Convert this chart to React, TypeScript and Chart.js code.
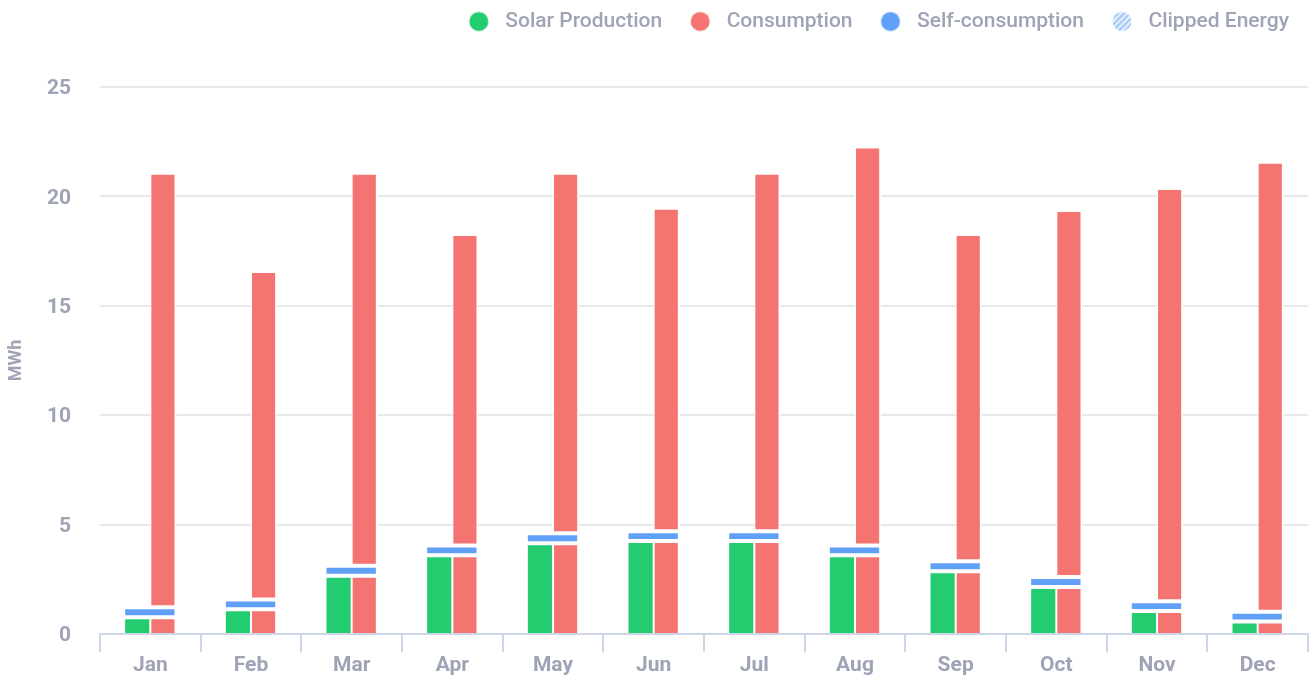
import React, { useEffect, useRef } from 'react';
import { Chart, registerables } from 'chart.js';

Chart.register(...registerables);

// ---------- data ----------
const months = ['Jan', 'Feb', 'Mar', 'Apr', 'May', 'Jun', 'Jul', 'Aug', 'Sep', 'Oct', 'Nov', 'Dec'];
const solarProduction = [0.72, 1.08, 2.62, 3.55, 4.1, 4.2, 4.2, 3.55, 2.82, 2.1, 1.0, 0.52];
const consumption = [21.0, 16.5, 21.0, 18.2, 21.0, 19.4, 21.0, 22.2, 18.2, 19.3, 20.3, 21.5];
const selfConsumption = [0.72, 1.08, 2.62, 3.55, 4.1, 4.2, 4.2, 3.55, 2.82, 2.1, 1.0, 0.52];
const clippedEnergy = [0, 0, 0, 0, 0, 0, 0, 0, 0, 0, 0, 0];
const yTicks = [0, 5, 10, 15, 20, 25];
const legendLabels = ['Solar Production', 'Consumption', 'Self-consumption', 'Clipped Energy'];
const yTitle = 'MWh';

// ---------- styles ----------
const GREEN = '#22cc6f';
const RED = '#f47472';
const BLUE = '#60a0f6';
const STRIPE = '#a8cbf7';
const TEXT = '#9ea3b5';
const GRID = '#e7e8ec';
const AXIS = '#cdd6e8';
const FONT = 'Roboto, "Noto Sans", sans-serif';
const MARKER_BAND = 0.5; // thickness of the self-consumption marker in MWh
const LEGEND_HEIGHT = 87;

function makeIcon(fill: string, striped: boolean): HTMLCanvasElement {
  const c = document.createElement('canvas');
  c.width = 44;
  c.height = 22;
  const ctx = c.getContext('2d')!;
  const cx = 28, cy = 11, r = 9.5;
  ctx.save();
  ctx.beginPath();
  ctx.arc(cx, cy, r, 0, Math.PI * 2);
  if (!striped) {
    ctx.fillStyle = fill;
    ctx.fill();
  } else {
    ctx.clip();
    ctx.fillStyle = '#ffffff';
    ctx.fillRect(cx - r, cy - r, 2 * r, 2 * r);
    ctx.strokeStyle = fill;
    ctx.lineWidth = 3;
    for (let k = -30; k <= 30; k += 6) {
      ctx.beginPath();
      ctx.moveTo(cx + k - 15, cy + 15);
      ctx.lineTo(cx + k + 15, cy - 15);
      ctx.stroke();
    }
  }
  ctx.restore();
  return c;
}

export default function App() {
  const ref = useRef<HTMLCanvasElement | null>(null);

  useEffect(() => {
    if (!ref.current) return;
    const icons = [makeIcon(GREEN, false), makeIcon(RED, false), makeIcon(BLUE, false), makeIcon(STRIPE, true)];
    const legendDatasetIdx = [0, 1, 3, 4];

    const layoutTweaks = {
      id: 'layoutTweaks',
      beforeInit(chart: any) {
        const legend = chart.legend;
        if (!legend) return;
        const origFit = legend.fit;
        legend.fit = function () {
          origFit.call(this);
          this.height = LEGEND_HEIGHT;
        };
      },
      afterLayout(chart: any) {
        if (chart.legend) {
          chart.legend.left -= 9;
          chart.legend.right -= 9;
          chart.legend.top += 1;
          chart.legend.bottom += 1;
        }
      },
    };

    const chart = new Chart(ref.current, {
      type: 'bar',
      data: {
        labels: months,
        datasets: [
          {
            label: legendLabels[0],
            data: solarProduction.map((v) => [0, v]),
            stack: 'solar',
            backgroundColor: GREEN,
            borderColor: '#ffffff',
            borderWidth: { left: 1, right: 1, top: 1, bottom: 0 },
            borderSkipped: false,
          },
          {
            label: legendLabels[1],
            data: solarProduction.map((v) => [0, v]),
            stack: 'cons',
            backgroundColor: RED,
            borderColor: '#ffffff',
            borderWidth: { left: 1, right: 2, top: 1, bottom: 0 },
            borderSkipped: false,
          },
          {
            label: legendLabels[1] + ' ',
            data: consumption.map((v, i) => [selfConsumption[i] + MARKER_BAND, v]),
            stack: 'cons',
            backgroundColor: RED,
            borderColor: '#ffffff',
            borderWidth: { left: 1, right: 2, top: 0, bottom: 2 },
            borderSkipped: false,
          },
          {
            label: legendLabels[2],
            data: selfConsumption.map((v) => [v, v + MARKER_BAND]),
            grouped: false,
            barPercentage: 1,
            backgroundColor: BLUE,
            borderColor: '#ffffff',
            borderWidth: { left: 1, right: 2, top: 2, bottom: 3 },
            borderSkipped: false,
          },
          {
            label: legendLabels[3],
            data: clippedEnergy,
            grouped: false,
            backgroundColor: STRIPE,
            borderWidth: 0,
          },
        ] as any,
      },
      options: {
        responsive: false,
        animation: false,
        events: [],
        layout: { padding: { left: 0, right: 4, top: 0, bottom: 0 } },
        datasets: {
          bar: { categoryPercentage: 0.52, barPercentage: 1 },
        } as any,
        plugins: {
          tooltip: { enabled: false },
          legend: {
            position: 'top',
            align: 'end',
            labels: {
              usePointStyle: true,
              pointStyleWidth: 44,
              boxHeight: 21,
              padding: 10,
              color: TEXT,
              font: { family: FONT, size: 21, weight: '500' as any },
              generateLabels: () =>
                legendLabels.map((text, i) => ({
                  text,
                  fillStyle: 'transparent',
                  strokeStyle: 'transparent',
                  lineWidth: 0,
                  pointStyle: icons[i] as any,
                  hidden: false,
                  datasetIndex: legendDatasetIdx[i],
                  fontColor: TEXT,
                })),
            },
          },
        },
        scales: {
          x: {
            offset: true,
            afterFit: (s: any) => {
              s.height = 44;
            },
            grid: {
              offset: true,
              drawOnChartArea: false,
              drawTicks: true,
              tickLength: 18,
              color: AXIS,
              lineWidth: 2,
            },
            border: { display: true, color: AXIS, width: 2 },
            ticks: {
              color: TEXT,
              padding: 1,
              font: { family: FONT, size: 21, weight: 'bold' as any },
            },
          },
          y: {
            stacked: false,
            min: 0,
            max: 25,
            afterBuildTicks: (s: any) => {
              s.ticks = yTicks.map((v) => ({ value: v }));
            },
            afterFit: (s: any) => {
              s.width = 100;
            },
            grid: { color: GRID, lineWidth: 2, drawTicks: false },
            border: { display: false },
            ticks: {
              color: TEXT,
              padding: 29,
              labelOffset: 2,
              font: { family: FONT, size: 21, weight: 'bold' as any },
            },
            title: {
              display: true,
              text: yTitle,
              color: TEXT,
              padding: { top: 6, bottom: 0 },
              font: { family: FONT, size: 18, weight: 'bold' as any },
            },
          },
        },
      },
      plugins: [layoutTweaks],
    });
    return () => chart.destroy();
  }, []);

  return (
    <div style={{ position: 'absolute', left: 0, top: 0, width: 1312, height: 678, background: '#ffffff' }}>
      <canvas ref={ref} width={1312} height={678} style={{ display: 'block' }} />
    </div>
  );
}
